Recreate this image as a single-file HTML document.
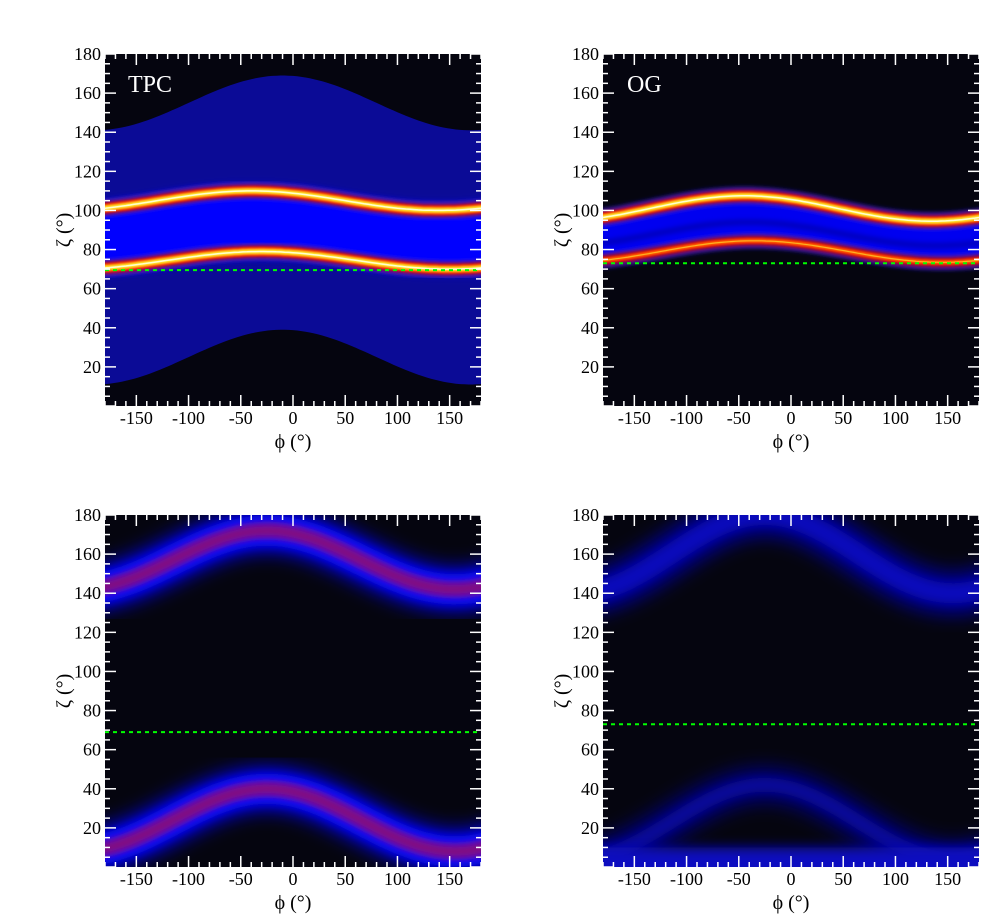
<!DOCTYPE html>
<html><head><meta charset="utf-8">
<style>
html,body{margin:0;padding:0;background:#fff;}
svg{display:block;}
text{font-family:"Liberation Serif",serif;}
</style></head>
<body>
<svg id="s" width="996" height="923" viewBox="0 0 996 923" xmlns="http://www.w3.org/2000/svg">
<defs>
<filter id="b1" x="-10%" y="-50%" width="120%" height="200%"><feGaussianBlur stdDeviation="1.2"/></filter>
<filter id="b2" x="-10%" y="-50%" width="120%" height="200%"><feGaussianBlur stdDeviation="2.5"/></filter>
<filter id="b4" x="-10%" y="-50%" width="120%" height="200%"><feGaussianBlur stdDeviation="5"/></filter>
<filter id="b8" x="-10%" y="-50%" width="120%" height="200%"><feGaussianBlur stdDeviation="9"/></filter>
<filter id="bb" x="-20%" y="-200%" width="140%" height="500%"><feGaussianBlur stdDeviation="6"/></filter>
<clipPath id="cp"><rect x="0" y="0" width="376" height="352"/></clipPath>
</defs>
<g id="p1" transform="translate(105,54)"></g>
<g id="p2" transform="translate(603,54)"></g>
<g id="p3" transform="translate(105,515)"></g>
<g id="p4" transform="translate(603,515)"></g>
<text x="128" y="92" font-size="24" fill="#fff">TPC</text>
<text x="627" y="92" font-size="24" fill="#fff">OG</text>
</svg>
<script>
const NS="http://www.w3.org/2000/svg";
const W=376,H=352;
const X=p=>(p+180)*W/360, Y=z=>H-z*H/180;
const c=d=>Math.cos(d*Math.PI/180);
function line(f){let s="";for(let p=-200;p<=200;p+=4){s+=(s?"L":"M")+X(p).toFixed(1)+","+Y(f(p)).toFixed(1);}return s;}
function area(f,g){let s=line(f);for(let p=200;p>=-200;p-=4){s+="L"+X(p).toFixed(1)+","+Y(g(p)).toFixed(1);}return s+"Z";}
function el(par,tag,at){const e=document.createElementNS(NS,tag);for(const k in at)e.setAttribute(k,at[k]);par.appendChild(e);return e;}
function band(g,f,cols){
 cols.forEach(([col,w,fl,op])=>el(g,"path",{d:line(f),fill:"none",stroke:col,"stroke-width":w,filter:fl?("url(#"+fl+")"):"", opacity:op||1}));
}
const hot=[["#2020ff",16,"b2"],["#c00000",12,"b2"],["#ff2000",8.5,"b1"],["#ffa000",6,"b1"],["#ffff40",3.5,"b1"],["#ffffd0",1.5,""]];
const redb=[["#2020ff",14,"b2"],["#b00000",10,"b2"],["#ff2000",5.5,"b1"],["#ff8000",2.5,"b1"]];
function panel(id,draw,green){
 const g=document.getElementById(id);
 const inner=el(g,"g",{"clip-path":"url(#cp)"});
 el(inner,"rect",{x:0,y:0,width:W,height:H,fill:"#05050f"});
 draw(inner);
 el(inner,"line",{x1:0,x2:W,y1:Y(green),y2:Y(green),stroke:"#00ff00","stroke-width":2,"stroke-dasharray":"4,4"});
 for(let p=-180;p<=180;p+=10){const mj=p%50===0;const L=mj?11:5;const x=X(p);
  el(g,"line",{x1:x,x2:x,y1:H,y2:H-L,stroke:"#fff","stroke-width":1.5});
  el(g,"line",{x1:x,x2:x,y1:0,y2:L,stroke:"#fff","stroke-width":1.5});}
 for(let z=0;z<=180;z+=5){const mj=z%20===0;const L=mj?11:5;const y=Y(z);
  el(g,"line",{x1:0,x2:L,y1:y,y2:y,stroke:"#fff","stroke-width":1.5});
  el(g,"line",{x1:W,x2:W-L,y1:y,y2:y,stroke:"#fff","stroke-width":1.5});}
 for(let p=-150;p<=150;p+=50){const t=el(g,"text",{x:X(p),y:H+18,"font-size":18,"text-anchor":"middle",fill:"#000"});t.textContent=p;}
 for(let z=20;z<=180;z+=20){const t=el(g,"text",{x:-4,y:Y(z)+6,"font-size":18,"text-anchor":"end",fill:"#000"});t.textContent=z;}
 const tx=el(g,"text",{x:W/2,y:H+42,"font-size":20,"text-anchor":"middle",fill:"#000"});tx.textContent="ϕ (°)";
 const ty=el(g,"text",{x:0,y:0,"font-size":20,"text-anchor":"middle",fill:"#000",transform:`translate(-35,${H/2}) rotate(-90)`});ty.textContent="ζ (°)";
}
panel("p1",g=>{
 const Lo=p=>25+14*c(p+10),Up=p=>155+14*c(p+10);
 el(g,"path",{d:area(Up,Lo),fill:"#0b0b96"});
 const ub=p=>105+5*c(p+40),lb=p=>74.5+4.5*c(p+30);
 el(g,"path",{d:area(p=>ub(p)+3,p=>lb(p)-3),fill:"#1515c8",filter:"url(#b4)"});
 el(g,"path",{d:area(ub,lb),fill:"#0000ff",filter:"url(#b1)"});
 band(g,ub,hot);band(g,lb,hot);
},69.5);
panel("p2",g=>{
 const ub=p=>101+6.5*c(p+45),lb=p=>79+5.5*c(p+35);
 el(g,"path",{d:area(ub,lb),fill:"#0000f0",filter:"url(#b1)"});
 el(g,"path",{d:line(p=>(ub(p)+lb(p))/2-2),fill:"none",stroke:"#0000a0","stroke-width":6,filter:"url(#b2)",opacity:0.6});
 band(g,ub,hot);band(g,lb,redb.concat([["#ffff40",1.2,"",0.5]]));
},73);
panel("p3",g=>{
 const ub=p=>157+15*c(p+25),lb=p=>24+16*c(p+25);
 [ub,lb].forEach(f=>{
  el(g,"path",{d:line(f),fill:"none",stroke:"#0000c0","stroke-width":46,filter:"url(#b8)"});
  el(g,"path",{d:line(f),fill:"none",stroke:"#1010ff","stroke-width":30,filter:"url(#b4)"});
  el(g,"path",{d:line(f),fill:"none",stroke:"#6010b0","stroke-width":18,filter:"url(#b2)"});
  el(g,"path",{d:line(f),fill:"none",stroke:"#901070","stroke-width":8,filter:"url(#b2)",opacity:0.7});
 });
},69);
panel("p4",g=>{
 const ub=p=>160+20*c(p+25),lb=p=>23+19*c(p+25);
 el(g,"path",{d:line(ub),fill:"none",stroke:"#00008a","stroke-width":44,filter:"url(#b8)"});
 el(g,"path",{d:line(ub),fill:"none",stroke:"#0c0cc8","stroke-width":20,filter:"url(#b4)",opacity:0.8});
 el(g,"path",{d:line(lb),fill:"none",stroke:"#000070","stroke-width":36,filter:"url(#b8)"});
 el(g,"path",{d:line(lb),fill:"none",stroke:"#0808a8","stroke-width":14,filter:"url(#b4)",opacity:0.8});
 el(g,"rect",{x:-20,y:Y(10),width:W+40,height:40,fill:"#0c0cc0",filter:"url(#bb)"});
},73);
</script>
</body></html>
